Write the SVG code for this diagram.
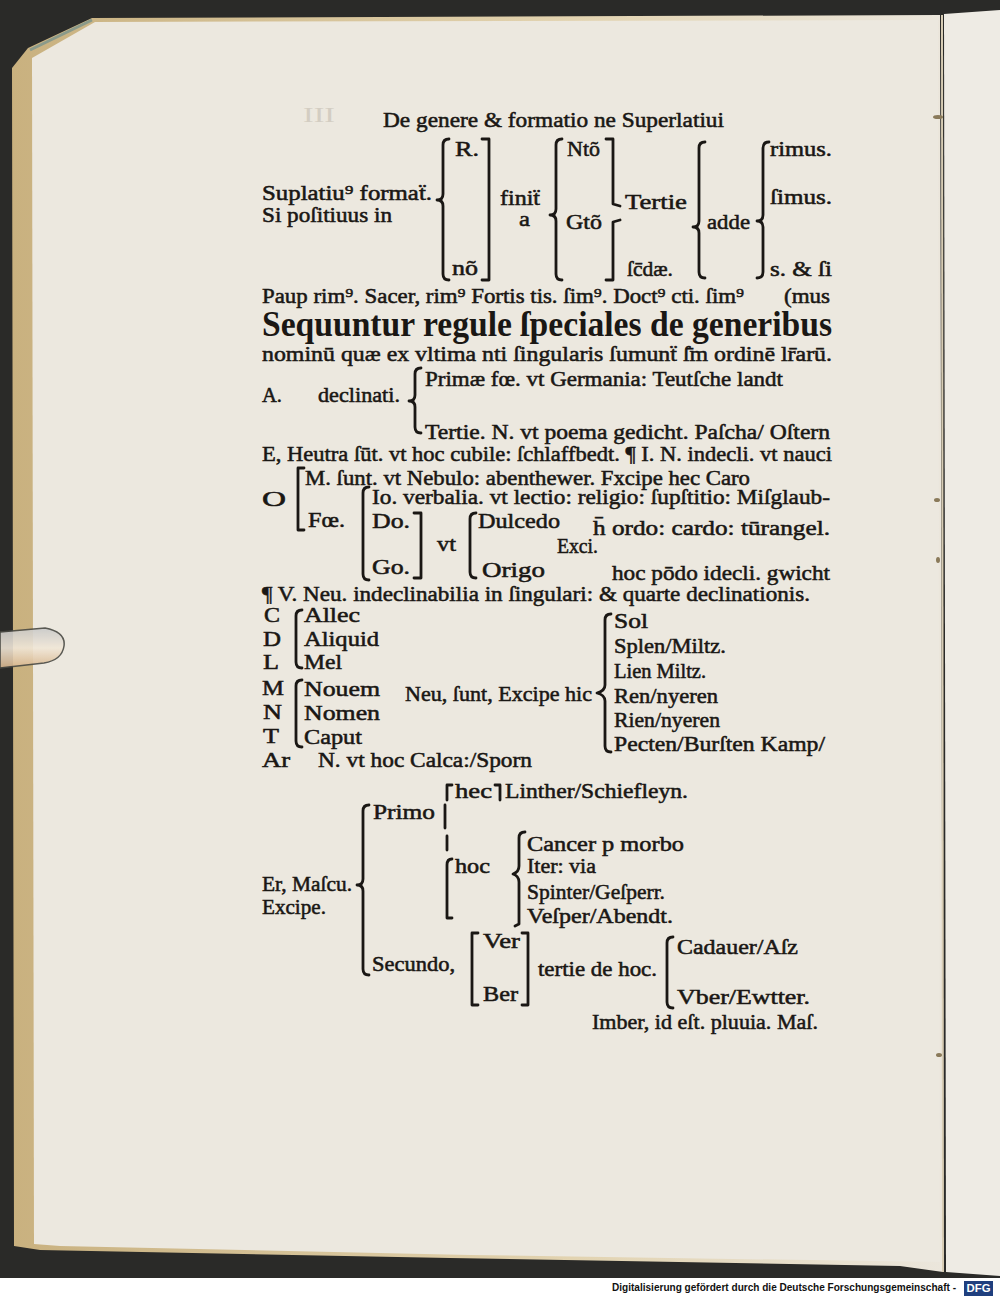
<svg xmlns="http://www.w3.org/2000/svg" width="1000" height="1298" viewBox="0 0 1000 1298">
<style>
.t{font-family:"Liberation Serif","DejaVu Serif",serif;font-size:22px;fill:#1a1714;stroke:#1a1714;stroke-width:0.55}
.h{font-family:"Liberation Serif","DejaVu Serif",serif;font-size:36px;font-weight:bold;fill:#1a1714}
.b{fill:none;stroke:#1a1714;stroke-width:2.8;stroke-linecap:round;stroke-linejoin:round}
.f{font-family:"Liberation Sans","DejaVu Sans",sans-serif;font-size:11px;font-weight:bold;fill:#111}
.g{font-family:"Liberation Serif","DejaVu Serif",serif;font-size:22px;fill:#d3cdc2}
</style>
<defs>
<linearGradient id="edge" x1="0" x2="1" y1="0" y2="0">
<stop offset="0" stop-color="#c9b17f"/>
<stop offset="0.6" stop-color="#e2d3b0"/>
<stop offset="1" stop-color="#ebe6dc"/>
</linearGradient>
<linearGradient id="tab" x1="0" x2="0" y1="0" y2="1">
<stop offset="0" stop-color="#c9c9c9"/>
<stop offset="0.5" stop-color="#f1e7d8"/>
<stop offset="1" stop-color="#d8b58c"/>
</linearGradient>
</defs>
<!-- background -->
<rect x="0" y="0" width="1000" height="1298" fill="#2a2a28"/>
<rect x="0" y="1278" width="1000" height="20" fill="#ffffff"/>
<!-- right page -->
<path d="M944,14 L1000,10 L1000,1276 L946,1272 Z" fill="#eeebe4"/>
<!-- left page -->
<path d="M12,68 L28,48 L92,18 L940,15 L943,1272 L900,1266 L450,1258 L40,1250 L14,1246 Z" fill="url(#edge)"/>
<path d="M32,58 L95,22 L938,20 L940,1262 L470,1255 L60,1246 L34,1244 Z" fill="#ece8df"/>
<path d="M30,50 L92,20" stroke="#8a9a8a" stroke-width="3" fill="none"/>
<line x1="942" y1="15" x2="943" y2="1272" stroke="#d7ccb4" stroke-width="2"/>
<g fill="#8a7a5a">
<ellipse cx="938" cy="117" rx="5" ry="2"/>
<ellipse cx="937" cy="500" rx="3" ry="2"/>
<ellipse cx="938" cy="560" rx="2" ry="3"/>
<ellipse cx="939" cy="1055" rx="3" ry="2"/>
</g>
<!-- bookmark tab -->
<path d="M0,632 L45,628 Q66,632 64,646 Q62,660 44,663 L0,668 Z" fill="url(#tab)" stroke="#4a4a44" stroke-width="1.5" opacity="0.9"/>

<g id="title">
<text class="g" x="303" y="122" textLength="32" lengthAdjust="spacingAndGlyphs">III</text>
<text class="t" x="383" y="127" font-size="24" textLength="341" lengthAdjust="spacingAndGlyphs">De genere &amp; formatio ne Superlatiui</text>
</g>

<g id="superlative-table">
<text class="t" x="262" y="200" textLength="170" lengthAdjust="spacingAndGlyphs">Suplatiu⁹ formaẗ.</text>
<text class="t" x="262" y="222" textLength="130" lengthAdjust="spacingAndGlyphs">Si poſitiuus in</text>
<path class="b" d="M449,139 Q443,139 443,145 L443,194 Q443,200 437,200 Q443,200 443,206 L443,274 Q443,280 449,280"/>
<text class="t" x="455" y="156" textLength="24" lengthAdjust="spacingAndGlyphs">R.</text>
<text class="t" x="452" y="275" textLength="26" lengthAdjust="spacingAndGlyphs">nõ</text>
<path class="b" d="M482,139 L489,139 L489,280 L482,280"/>
<text class="t" x="500" y="205" textLength="40" lengthAdjust="spacingAndGlyphs">finiẗ</text>
<text class="t" x="519" y="226" textLength="11" lengthAdjust="spacingAndGlyphs">a</text>
<path class="b" d="M562,139 Q556,139 556,145 L556,209 Q556,215 550,215 Q556,215 556,221 L556,274 Q556,280 562,280"/>
<text class="t" x="567" y="156" textLength="33" lengthAdjust="spacingAndGlyphs">Ntõ</text>
<text class="t" x="566" y="229" textLength="36" lengthAdjust="spacingAndGlyphs">Gtõ</text>
<path class="b" d="M606,139 L613,139 L613,204 L620,206"/>
<path class="b" d="M620,220 L613,222 L613,280 L606,280"/>
<text class="t" x="625" y="209" textLength="62" lengthAdjust="spacingAndGlyphs">Tertie</text>
<text class="t" x="627" y="276" textLength="46" lengthAdjust="spacingAndGlyphs">ſc̄dæ.</text>
<path class="b" d="M705,142 Q699,142 699,148 L699,221 Q699,227 693,227 Q699,227 699,233 L699,272 Q699,278 705,278"/>
<text class="t" x="707" y="229" textLength="43" lengthAdjust="spacingAndGlyphs">adde</text>
<path class="b" d="M769,142 Q763,142 763,148 L763,215 Q763,221 757,221 Q763,221 763,227 L763,272 Q763,278 757,278"/>
<text class="t" x="770" y="156" textLength="62" lengthAdjust="spacingAndGlyphs">rimus.</text>
<text class="t" x="770" y="204" textLength="62" lengthAdjust="spacingAndGlyphs">ſimus.</text>
<text class="t" x="770" y="276" textLength="62" lengthAdjust="spacingAndGlyphs">s. &amp; ſi</text>
<text class="t" x="262" y="303" textLength="482" lengthAdjust="spacingAndGlyphs">Paup rim⁹. Sacer, rim⁹ Fortis tis. ſim⁹. Doct⁹ cti. ſim⁹</text>
<text class="t" x="784" y="303" textLength="46" lengthAdjust="spacingAndGlyphs">(mus</text>
</g>

<g id="heading">
<text class="h" x="262" y="336" textLength="570" lengthAdjust="spacingAndGlyphs">Sequuntur regule ſpeciales de generibus</text>
<text class="t" x="262" y="361" textLength="570" lengthAdjust="spacingAndGlyphs">nominū quæ ex vltima nti ſingularis ſumunẗ ſ̄m ordinē lr̄arū.</text>
</g>

<g id="rule-A">
<text class="t" x="262" y="402" textLength="20" lengthAdjust="spacingAndGlyphs">A.</text>
<text class="t" x="318" y="402" textLength="82" lengthAdjust="spacingAndGlyphs">declinati.</text>
<path class="b" d="M421,368 Q415,368 415,374 L415,395 Q415,401 409,401 Q415,401 415,407 L415,427 Q415,433 421,433"/>
<text class="t" x="425" y="386" textLength="358" lengthAdjust="spacingAndGlyphs">Primæ fœ. vt Germania: Teutſche landt</text>
<text class="t" x="425" y="439" textLength="405" lengthAdjust="spacingAndGlyphs">Tertie. N. vt poema gedicht. Paſcha/ Oſtern</text>
</g>

<g id="rule-E">
<text class="t" x="262" y="461" textLength="570" lengthAdjust="spacingAndGlyphs">E, Heutra ſūt. vt hoc cubile: ſchlaffbedt. ¶ I. N. indecli. vt nauci</text>
</g>

<g id="rule-O">
<text class="t" x="262" y="506" textLength="24" lengthAdjust="spacingAndGlyphs">O</text>
<path class="b" d="M304,468 L298,468 L298,530 L304,530"/>
<text class="t" x="305" y="485" textLength="445" lengthAdjust="spacingAndGlyphs">M. ſunt. vt Nebulo: abenthewer. Fxcipe hec Caro</text>
<text class="t" x="308" y="527" textLength="37" lengthAdjust="spacingAndGlyphs">Fœ.</text>
<path class="b" d="M369,487 Q363,487 363,493 L363,574 Q363,580 369,580"/>
<text class="t" x="372" y="504" textLength="458" lengthAdjust="spacingAndGlyphs">Io. verbalia. vt lectio: religio: ſupſtitio: Miſglaub-</text>
<text class="t" x="372" y="528" textLength="38" lengthAdjust="spacingAndGlyphs">Do.</text>
<text class="t" x="372" y="574" textLength="38" lengthAdjust="spacingAndGlyphs">Go.</text>
<path class="b" d="M414,513 L421,513 L421,578 L414,578"/>
<text class="t" x="437" y="551" textLength="19" lengthAdjust="spacingAndGlyphs">vt</text>
<path class="b" d="M476,513 Q470,513 470,519 L470,572 Q470,578 476,578"/>
<text class="t" x="478" y="528" textLength="82" lengthAdjust="spacingAndGlyphs">Dulcedo</text>
<text class="t" x="482" y="577" textLength="63" lengthAdjust="spacingAndGlyphs">Origo</text>
<text class="t" x="557" y="553" textLength="41" lengthAdjust="spacingAndGlyphs">Exci.</text>
<text class="t" x="593" y="535" textLength="237" lengthAdjust="spacingAndGlyphs">h̄ ordo: cardo: tūrangel.</text>
<text class="t" x="612" y="580" textLength="218" lengthAdjust="spacingAndGlyphs">hoc pōdo idecli. gwicht</text>
</g>

<g id="rule-V">
<text class="t" x="262" y="601" textLength="548" lengthAdjust="spacingAndGlyphs">¶ V. Neu. indeclinabilia in ſingulari: &amp; quarte declinationis.</text>
</g>

<g id="rule-CDLMNT">
<text class="t" x="264" y="622" textLength="16" lengthAdjust="spacingAndGlyphs">C</text>
<text class="t" x="263" y="646" textLength="18" lengthAdjust="spacingAndGlyphs">D</text>
<text class="t" x="263" y="669" textLength="16" lengthAdjust="spacingAndGlyphs">L</text>
<text class="t" x="262" y="695" textLength="22" lengthAdjust="spacingAndGlyphs">M</text>
<text class="t" x="263" y="719" textLength="19" lengthAdjust="spacingAndGlyphs">N</text>
<text class="t" x="263" y="743" textLength="16" lengthAdjust="spacingAndGlyphs">T</text>
<path class="b" d="M302,610 Q296,610 296,616 L296,662 Q296,668 302,668"/>
<path class="b" d="M302,680 Q296,680 296,686 L296,741 Q296,747 302,747"/>
<text class="t" x="304" y="622" textLength="56" lengthAdjust="spacingAndGlyphs">Allec</text>
<text class="t" x="304" y="646" textLength="75" lengthAdjust="spacingAndGlyphs">Aliquid</text>
<text class="t" x="304" y="669" textLength="38" lengthAdjust="spacingAndGlyphs">Mel</text>
<text class="t" x="304" y="696" textLength="76" lengthAdjust="spacingAndGlyphs">Nouem</text>
<text class="t" x="304" y="720" textLength="76" lengthAdjust="spacingAndGlyphs">Nomen</text>
<text class="t" x="304" y="744" textLength="58" lengthAdjust="spacingAndGlyphs">Caput</text>
<text class="t" x="405" y="701" textLength="187" lengthAdjust="spacingAndGlyphs">Neu, ſunt, Excipe hic</text>
<path class="b" d="M611,614 Q605,614 605,620 L605,685 Q605,691 597,693 Q605,695 605,701 L605,746 Q605,752 611,752"/>
<text class="t" x="614" y="628" textLength="34" lengthAdjust="spacingAndGlyphs">Sol</text>
<text class="t" x="614" y="653" textLength="112" lengthAdjust="spacingAndGlyphs">Splen/Miltz.</text>
<text class="t" x="614" y="678" textLength="92" lengthAdjust="spacingAndGlyphs">Lien Miltz.</text>
<text class="t" x="614" y="703" textLength="104" lengthAdjust="spacingAndGlyphs">Ren/nyeren</text>
<text class="t" x="614" y="727" textLength="106" lengthAdjust="spacingAndGlyphs">Rien/nyeren</text>
<text class="t" x="614" y="751" textLength="211" lengthAdjust="spacingAndGlyphs">Pecten/Burſten Kamp/</text>
</g>

<g id="rule-Ar">
<text class="t" x="262" y="767" textLength="28" lengthAdjust="spacingAndGlyphs">Ar</text>
<text class="t" x="318" y="767" textLength="214" lengthAdjust="spacingAndGlyphs">N. vt hoc Calca:/Sporn</text>
</g>

<g id="rule-Er">
<text class="t" x="262" y="891" textLength="90" lengthAdjust="spacingAndGlyphs">Er, Maſcu.</text>
<text class="t" x="262" y="914" textLength="64" lengthAdjust="spacingAndGlyphs">Excipe.</text>
<path class="b" d="M369,805 Q363,805 363,811 L363,879 Q363,885 357,885 Q363,885 363,891 L363,969 Q363,975 369,975"/>
<text class="t" x="373" y="819" textLength="62" lengthAdjust="spacingAndGlyphs">Primo</text>
<line class="b" x1="445" y1="805" x2="445" y2="828"/>
<path class="b" d="M452,785 L447,785 L447,800"/>
<text class="t" x="455" y="798" textLength="37" lengthAdjust="spacingAndGlyphs">hec</text>
<path class="b" d="M495,785 L500,785 L500,800"/>
<text class="t" x="505" y="798" textLength="183" lengthAdjust="spacingAndGlyphs">Linther/Schiefleyn.</text>
<path class="b" d="M447,836 L447,850"/>
<path class="b" d="M452,859 Q447,859 447,865 L447,918 L452,918"/>
<text class="t" x="455" y="873" textLength="35" lengthAdjust="spacingAndGlyphs">hoc</text>
<path class="b" d="M525,832 Q519,832 519,838 L519,866 Q519,872 513,874 Q519,876 519,882 L519,924 L515,926"/>
<text class="t" x="527" y="851" textLength="157" lengthAdjust="spacingAndGlyphs">Cancer p morbo</text>
<text class="t" x="527" y="873" textLength="69" lengthAdjust="spacingAndGlyphs">Iter: via</text>
<text class="t" x="527" y="899" textLength="138" lengthAdjust="spacingAndGlyphs">Spinter/Geſperr.</text>
<text class="t" x="527" y="923" textLength="146" lengthAdjust="spacingAndGlyphs">Veſper/Abendt.</text>
<text class="t" x="372" y="971" textLength="83" lengthAdjust="spacingAndGlyphs">Secundo,</text>
<path class="b" d="M478,933 L472,933 L472,1005 L478,1005"/>
<text class="t" x="483" y="948" textLength="37" lengthAdjust="spacingAndGlyphs">Ver</text>
<text class="t" x="483" y="1001" textLength="35" lengthAdjust="spacingAndGlyphs">Ber</text>
<path class="b" d="M522,933 L528,933 L528,1005 L522,1005"/>
<text class="t" x="538" y="976" textLength="119" lengthAdjust="spacingAndGlyphs">tertie de hoc.</text>
<path class="b" d="M673,937 Q667,937 667,943 L667,1002 Q667,1008 673,1008"/>
<text class="t" x="677" y="954" textLength="121" lengthAdjust="spacingAndGlyphs">Cadauer/Aſz</text>
<text class="t" x="677" y="1004" textLength="133" lengthAdjust="spacingAndGlyphs">Vber/Ewtter.</text>
<text class="t" x="592" y="1029" textLength="226" lengthAdjust="spacingAndGlyphs">Imber, id eſt. pluuia. Maſ.</text>
</g>

<g id="footer">
<text class="f" x="612" y="1291" textLength="344" lengthAdjust="spacingAndGlyphs">Digitalisierung gefördert durch die Deutsche Forschungsgemeinschaft -</text>
<rect x="964" y="1281" width="29" height="15" fill="#1f3f7e"/>
<text x="978.5" y="1292" text-anchor="middle" font-family="Liberation Sans,sans-serif" font-size="10" font-weight="bold" fill="#fff" textLength="24" lengthAdjust="spacingAndGlyphs">DFG</text>
</g>
</svg>
